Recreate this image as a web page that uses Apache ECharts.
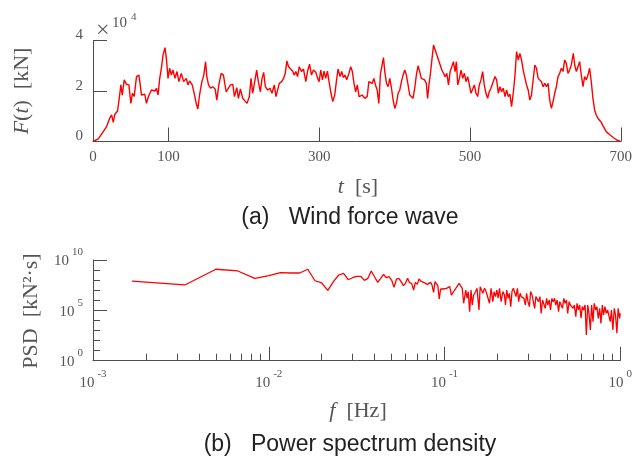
<!DOCTYPE html>
<html><head><meta charset="utf-8">
<script src="https://cdn.jsdelivr.net/npm/echarts@6/dist/echarts.min.js"></script>
<style>html,body{margin:0;padding:0;background:#fff}#c{width:635px;height:456px}</style>
</head><body><div id="c"></div>
<script>
// ---- (a) wind force wave: time [s] and force [x10^4 kN]
const timeS = [0,7,13.6,18,22.4,24.7,26.9,29,32.6,34.8,37,38.8,41.4,44.5,47.6,50.2,52.4,54.6,57.7,60.8,62.1,64.3,66.5,68.7,70.9,73.5,75.3,77.5,79.7,82.3,84.1,86.3,88.5,90.7,92.9,95.5,97.3,99.5,101.7,103.9,106.1,108.7,111.4,114,117.1,120.2,123.7,125.9,128.1,131.6,134.7,136.9,139.1,141.3,144.4,147,149.3,151,153.2,155.9,158.9,162,164.2,166.9,170,173,
176.6,178.8,182.3,185.4,187.6,190.7,192.9,195.5,198.6,201.7,204.3,207.4,209.6,211.8,214.9,217.1,219.3,222,224.2,226.4,228.6,231.7,234.7,237.4,240.5,242.7,244.9,247.1,250.2,252.8,255,257.2,259.4,261.6,264.7,266.9,269.1,271.3,273.5,276.6,279.2,282.3,284.5,287.2,289.8,292.4,295.5,297.7,299.9,302.1,304.3,306.5,308.7,310.9,313.1,315.3,318,320.6,322.8,325,327.7,329.9,332.1,334.3,336.5,339.1,341.8,344,346.2,348.4,350.6,352.8,
354.9,357.1,360.6,363.7,365.9,368.1,370.3,372.5,374.7,376.9,379.1,381.3,383.5,385.3,387,389.3,391.5,393.7,395.9,398.1,400.3,402.5,404.7,406.9,409.1,411.3,413.5,415.7,417.9,420.1,422.3,424.5,426.7,428.9,431.1,433.3,435.5,437.7,439.9,442.1,443.8,445.6,447.3,449.5,451.7,453.9,456.1,458.3,460.5,462.7,464.9,467.1,469.3,471.5,473.7,475.9,478.1,480.3,482,483.8,486,488.2,490.4,492.6,494.8,497,499.2,501.4,503.6,505.8,508,510.2,512.4,514.6,516.8,519,521.2,523.4,525.6,527.8,530,
533.2,535.4,537.6,539.8,542,544.2,546.4,548.6,550.8,553,555.2,557.4,559.6,561.8,564,566.2,568.4,570.6,572.8,575,577.2,579.4,581.6,583.8,586,588.2,590.4,592.6,594.8,597,599.2,601.4,603.6,605.8,608,610.2,612.4,614.6,616.8,619,621.2,623.4,625.6,627.8,630,632.2,634.4,637.1,638.9,641.1,643.3,645.5,647.7,649.9,652.1,654.3,656.5,658.7,660.9,663.1,665.3,667.5,669.7,671.9,674.1,676.3,680.7,685.1,690.4,694.8,699.7];
const forceE4 = [0,0.1,0.39,0.59,0.94,1.05,0.76,1.08,1.21,1.71,2.24,1.84,2.44,2.26,2.24,1.51,1.91,1.78,2.57,2.63,2.37,1.84,1.78,1.87,1.51,1.78,1.84,2.04,2.11,2.0,2.11,1.84,2.5,2.9,3.43,3.72,3.29,2.5,2.9,2.63,2.83,2.5,2.77,2.37,2.7,2.37,2.5,2.24,2.4,2.24,1.84,1.51,1.29,1.84,2.37,2.63,3.16,2.57,2.24,2.11,2.17,2.08,1.64,2.24,2.7,2.63,
1.97,1.95,2.24,2.26,1.78,2.13,1.71,2.08,1.71,1.6,1.51,1.78,2.5,1.91,2.44,2.83,2.37,1.97,2.5,2.74,2.17,2.04,2.11,1.91,2.24,1.78,1.71,2.3,2.37,2.5,2.7,3.19,2.96,3.03,2.79,2.63,2.77,2.57,2.96,2.77,2.87,2.37,2.77,3.06,2.63,2.83,2.74,2.53,2.37,2.83,2.44,2.79,2.5,2.79,2.37,1.97,1.58,1.84,2.37,2.87,2.57,2.77,2.53,2.63,2.44,2.66,2.96,2.77,2.3,1.97,2.24,1.78,
1.78,1.84,1.71,1.78,2.37,2.44,2.3,2.5,2.24,2.04,1.51,2.7,3.03,3.32,2.77,2.3,2.17,2.5,2.11,1.64,1.31,1.51,1.91,2.04,2.37,2.63,2.83,2.63,2.24,1.84,1.91,1.71,2.11,2.63,3.0,2.77,2.5,2.57,2.44,2.3,1.71,2.24,2.63,3.23,3.82,3.62,3.69,3.23,3.03,2.83,2.9,2.57,2.7,2.24,2.77,2.96,3.16,2.77,3.16,2.24,2.5,2.83,2.5,2.7,2.37,2.57,2.24,1.91,1.84,2.24,1.91,1.78,2.24,2.44,2.77,2.24,1.91,1.71,1.97,2.11,2.3,
2.57,2.44,1.91,2.17,1.97,2.11,1.78,2.04,1.78,1.87,1.38,1.91,2.57,3.56,3.23,3.49,3.23,2.83,2.77,2.24,2.04,1.64,1.84,1.91,3.03,2.9,2.5,2.57,2.37,2.17,2.3,2.17,2.3,1.64,1.31,1.58,1.91,2.17,2.57,2.7,2.9,2.77,3.23,3.1,2.7,2.83,3.03,3.49,3.03,2.77,2.77,3.16,2.63,2.17,2.57,2.44,2.63,2.9,2.37,1.71,1.25,1.05,0.92,0.85,0.76,0.63,0.39,0.28,0.15,0.06,0];

// ---- (b) PSD, read on log scales: log10(f [Hz]) and log10(PSD [kN^2 s])
const logFreq = [-2.778,-2.477,-2.301,-2.176,-2.079,-2.000,-1.933,-1.875,-1.824,-1.778,-1.737,-1.699,-1.664,-1.632,-1.602,-1.574,-1.548,-1.523,-1.500,-1.477,-1.456,-1.436,-1.417,-1.398,-1.380,-1.363,-1.347,-1.331,-1.316,-1.301,
-1.287,-1.273,-1.260,-1.247,-1.234,-1.222,-1.210,-1.199,-1.187,-1.176,-1.166,-1.155,-1.145,-1.135,-1.125,-1.116,-1.106,-1.097,-1.088,-1.079,-1.071,-1.062,-1.054,-1.046,-1.038,-1.030,-1.022,-1.015,-1.007,-1.000,
-0.989,-0.970,-0.961,-0.951,-0.942,-0.933,-0.917,-0.910,-0.899,-0.891,-0.879,-0.872,-0.865,-0.857,-0.849,-0.842,-0.834,-0.823,-0.815,-0.804,-0.797,-0.789,-0.782,-0.772,-0.763,-0.753,-0.744,-0.735,-0.725,-0.718,-0.710,-0.702,-0.695,-0.687,-0.678,
-0.668,-0.659,-0.653,-0.646,-0.638,-0.631,-0.623,-0.616,-0.608,-0.600,-0.593,-0.585,-0.578,-0.570,-0.563,-0.555,-0.548,-0.540,-0.533,-0.525,-0.517,-0.510,-0.502,-0.495,-0.487,-0.480,-0.472,-0.465,-0.457,-0.450,-0.442,-0.434,-0.427,-0.419,-0.412,-0.404,-0.397,-0.389,-0.382,-0.374,-0.367,-0.359,-0.351,-0.344,-0.336,-0.329,-0.321,-0.314,-0.306,-0.299,-0.291,-0.284,-0.276,-0.268,-0.261,-0.253,-0.246,-0.238,-0.231,-0.223,-0.216,-0.208,-0.200,-0.193,-0.185,-0.178,-0.170,-0.163,-0.155,-0.148,-0.140,-0.133,-0.125,-0.117,-0.110,-0.102,-0.095,-0.087,-0.080,-0.072,-0.065,-0.057,-0.050,-0.042,-0.034,-0.027,-0.019,-0.012,-0.004,0.000];
const logPsd = [7.91,7.52,9.08,8.91,8.18,8.44,8.74,8.71,8.71,9.08,7.94,7.72,6.99,7.85,8.51,8.68,8.04,8.24,8.38,8.38,7.98,8.18,8.91,8.34,7.78,8.18,8.58,8.24,8.34,8.01,
7.29,8.11,8.18,7.85,7.45,7.68,8.18,7.75,7.68,7.02,7.78,7.58,8.11,7.91,7.85,7.75,7.65,7.58,7.45,7.78,7.51,6.79,7.85,7.68,7.45,6.13,7.12,7.19,7.12,7.12,
7.19,7.35,6.52,6.69,7.02,7.25,7.68,7.52,7.19,5.70,7.02,6.20,6.85,4.87,7.02,5.53,6.52,6.85,7.19,5.03,7.35,7.19,6.69,7.19,6.85,7.02,5.70,7.19,5.86,6.85,6.36,7.02,6.20,7.19,5.86,
6.86,6.53,5.53,7.02,6.19,6.69,5.37,6.86,7.19,7.02,6.36,7.19,5.86,6.69,6.36,6.53,6.19,5.53,6.69,5.86,5.37,6.86,6.53,6.69,5.20,6.36,6.19,5.86,6.36,4.70,6.03,6.19,5.20,6.19,5.53,6.03,5.04,6.19,5.86,6.19,5.53,6.03,4.87,5.86,6.03,5.20,6.19,5.70,6.03,4.70,5.86,5.53,5.70,5.20,5.53,4.37,5.70,5.04,5.53,4.21,5.37,5.04,5.53,2.55,5.53,4.70,3.05,5.53,3.88,5.70,5.04,5.37,4.21,5.20,3.71,5.53,4.54,5.37,4.70,5.04,5.20,3.88,5.04,3.05,5.20,4.54,2.72,5.20,4.21,4.70];

// ---- tick positions / labels
const topXTicks = [100, 300, 500, 700];
const topXLabels = [0, 100, 300, 500, 700];
const topYTicks = [2, 4];
const topYLabels = [0, 2, 4];
const psdXMajor = [0.01, 0.1, 1];
const psdXLabels = [0.001, 0.01, 0.1, 1];
const psdXMinor = [0.002,0.003,0.004,0.005,0.006,0.007,0.008,0.009,0.02,0.03,0.04,0.05,0.06,0.07,0.08,0.09,0.2,0.3,0.4,0.5,0.6,0.7,0.8,0.9];
const psdYMajor = [1e5, 1e10];
const psdYLabels = [1, 1e5, 1e10];
const psdYMinor = [10, 100, 1e3, 1e4, 1e6, 1e7, 1e8, 1e9];

const forceData = timeS.map((t, i) => [t, forceE4[i]]);
const psdData = logFreq.map((lf, i) => [Math.pow(10, lf), Math.pow(10, logPsd[i])]);

const AX = '#4d4d4d', TXT = '#555', SERIF = '"Liberation Serif","DejaVu Serif",serif', SANS = '"Liberation Sans",Arial,sans-serif';
const line = { lineStyle: { color: AX, width: 1 } };
const pow10 = v => {
  const e = Math.round(Math.log10(v));
  return '{b|10}{e|' + (e < 0 ? '-' + (-e) : e) + '}';
};
const richExp = {
  b: { fontFamily: SERIF, fontSize: 15, color: TXT, verticalAlign: 'bottom', lineHeight: 22 },
  e: { fontFamily: SERIF, fontSize: 11, color: TXT, verticalAlign: 'top', lineHeight: 22, padding: [0, 0, 0, 3] }
};

const chart = echarts.init(document.getElementById('c'), null, { renderer: 'canvas' });
chart.setOption({
  animation: false,
  backgroundColor: '#fff',
  grid: [
    { left: 93, top: 40.5, width: 530, height: 101 },
    { left: 93, top: 260, width: 530, height: 100.7 }
  ],
  xAxis: [
    { gridIndex: 0, type: 'value', position: 'bottom', min: 0, max: 700, axisLine: line,
      axisTick: { inside: true, length: 14, customValues: topXTicks, lineStyle: { color: AX } },
      axisLabel: { customValues: topXLabels, color: TXT, fontFamily: SERIF, fontSize: 15, margin: 8 },
      splitLine: { show: false } },
    { gridIndex: 1, type: 'log', logBase: 10, position: 'bottom', min: 0.001, max: 1, axisLine: line,
      axisTick: { inside: true, length: 14, customValues: psdXMajor, lineStyle: { color: AX } },
      axisLabel: { customValues: psdXLabels, formatter: pow10, rich: richExp, margin: 8 },
      splitLine: { show: false } },
    { gridIndex: 1, type: 'log', logBase: 10, position: 'bottom', offset: 0, min: 0.001, max: 1, axisLine: { show: false },
      axisTick: { inside: true, length: 7, customValues: psdXMinor, lineStyle: { color: AX } },
      axisLabel: { show: false }, splitLine: { show: false } }
  ],
  yAxis: [
    { gridIndex: 0, type: 'value', position: 'left', min: 0, max: 4, axisLine: { show: true, lineStyle: { color: AX, width: 1 } },
      axisTick: { show: true, inside: true, length: 14, customValues: topYTicks, lineStyle: { color: AX } },
      axisLabel: { customValues: topYLabels, color: TXT, fontFamily: SERIF, fontSize: 15, margin: 10, verticalAlign: 'bottom', lineHeight: 10 },
      splitLine: { show: false } },
    { gridIndex: 1, type: 'log', logBase: 10, position: 'left', min: 1, max: 1e10, axisLine: { show: true, lineStyle: { color: AX, width: 1 } },
      axisTick: { show: true, inside: true, length: 14, customValues: psdYMajor, lineStyle: { color: AX } },
      axisLabel: { customValues: psdYLabels, formatter: pow10, rich: richExp, margin: 10, verticalAlign: 'middle', padding: [0, 0, 4, 0] },
      splitLine: { show: false } },
    { gridIndex: 1, type: 'log', logBase: 10, position: 'left', offset: 0, min: 1, max: 1e10, axisLine: { show: false },
      axisTick: { show: true, inside: true, length: 7, customValues: psdYMinor, lineStyle: { color: AX } },
      axisLabel: { show: false }, splitLine: { show: false } }
  ],
  series: [
    { type: 'line', xAxisIndex: 0, yAxisIndex: 0, data: forceData, showSymbol: false, symbol: 'none',
      lineStyle: { color: '#ff0000', width: 1.4 } },
    { type: 'line', xAxisIndex: 1, yAxisIndex: 1, data: psdData, showSymbol: false, symbol: 'none',
      lineStyle: { color: '#ff0000', width: 1.3 } }
  ],
  graphic: [
    { type: 'text', x: 96, y: 30.5, style: { text: '×', font: '24px ' + SERIF, fill: TXT, verticalAlign: 'middle' } },
    { type: 'text', x: 112, y: 23.5, style: { text: '10', font: '15px ' + SERIF, fill: TXT, verticalAlign: 'middle' } },
    { type: 'text', x: 131, y: 17.5, style: { text: '4', font: '11px ' + SERIF, fill: TXT, verticalAlign: 'middle' } },
    { type: 'text', x: 22.5, y: 91, rotation: Math.PI / 2,
      style: { text: '{i|F}{n|(}{i|t}{n|)  [kN]}', align: 'center', verticalAlign: 'middle',
        rich: { i: { font: 'italic 22px ' + SERIF, fill: TXT }, n: { font: '22px ' + SERIF, fill: TXT } } } },
    { type: 'text', x: 358, y: 187,
      style: { text: '{i|t}{n|  [s]}', align: 'center', verticalAlign: 'middle',
        rich: { i: { font: 'italic 22px ' + SERIF, fill: TXT }, n: { font: '22px ' + SERIF, fill: TXT } } } },
    { type: 'text', x: 350, y: 218,
      style: { text: '(a)   Wind force wave', font: '23px ' + SANS, fill: '#222', align: 'center', verticalAlign: 'middle' } },
    { type: 'text', x: 31, y: 311, rotation: Math.PI / 2,
      style: { text: 'PSD  [kN²·s]', font: '22px ' + SERIF, fill: TXT, align: 'center', verticalAlign: 'middle' } },
    { type: 'text', x: 358, y: 411,
      style: { text: '{i|f}{n|  [Hz]}', align: 'center', verticalAlign: 'middle',
        rich: { i: { font: 'italic 22px ' + SERIF, fill: TXT }, n: { font: '22px ' + SERIF, fill: TXT } } } },
    { type: 'text', x: 350, y: 445,
      style: { text: '(b)   Power spectrum density', font: '23px ' + SANS, fill: '#222', align: 'center', verticalAlign: 'middle' } }
  ]
});
</script></body></html>
